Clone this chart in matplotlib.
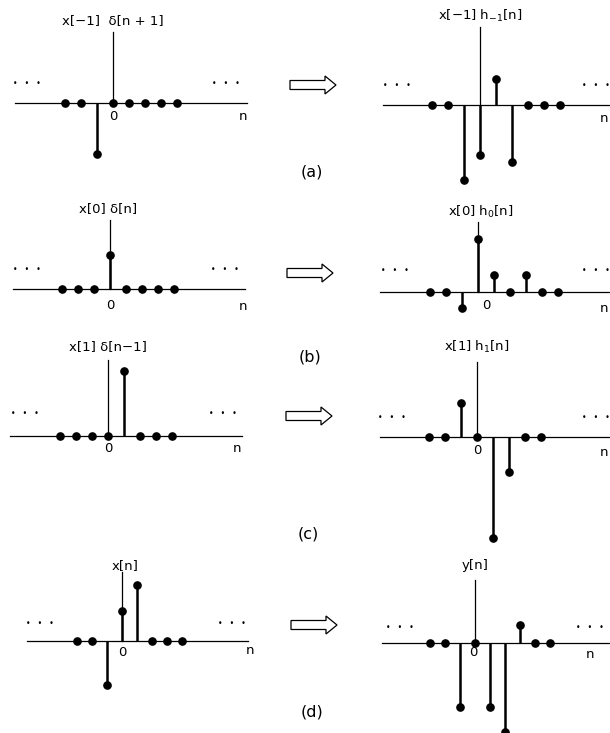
import matplotlib
matplotlib.use("Agg")
import matplotlib.pyplot as plt
from matplotlib.patches import FancyArrow

plt.rcParams["font.family"] = ["DejaVu Sans"]
plt.rcParams["mathtext.fontset"] = "dejavusans"

W, H = 610, 733
UNIT = 34  # pixels per amplitude unit

# sample indices
n_short = [-3, -2, -1, 0, 1, 2, 3, 4]
n_long = [-3, -2, -1, 0, 1, 2, 3, 4, 5]

# amplitudes
x_a = [0, 0, -1.5, 0, 0, 0, 0, 0]
y_a = [0, 0, -2.2, -1.47, 0.76, -1.68, 0, 0, 0]
x_b = [0, 0, 0, 1.0, 0, 0, 0, 0]
y_b = [0, 0, -0.47, 1.56, 0.5, 0, 0.5, 0, 0]
x_c = [0, 0, 0, 0, 1.9, 0, 0, 0]
y_c = [0, 0, 1.0, 0, -2.97, -1.03, 0, 0]
x_d = [0, 0, -1.29, 0.88, 1.65, 0, 0, 0]
y_d = [0, 0, -1.88, 0, -1.88, -2.62, 0.53, 0, 0]

titles = [
    "x[−1]  δ[n + 1]", "x[−1] h$_{-1}$[n]",
    "x[0] δ[n]", "x[0] h$_0$[n]",
    "x[1] δ[n−1]", "x[1] h$_1$[n]",
    "x[n]", "y[n]",
]
labels = ["(a)", "(b)", "(c)", "(d)"]

# layout in pixels: origin (x of n=0, px per sample, y of baseline),
# baseline span, top of ordinate line, title, "0", "n", dots left/right
layouts = [
    dict(o=(113, 16, 103), base=(15, 247), vtop=32, t=(113, 21), z=(113, 116),
         n=(243, 117), dl=(27, 84), dr=(226, 84)),
    dict(o=(480, 16, 105), base=(383, 610), vtop=27, t=(480, 16), z=None,
         n=(604, 118), dl=(397, 85), dr=(596, 85)),
    dict(o=(110, 16, 289), base=(13, 245), vtop=220, t=(108, 209), z=(110, 305),
         n=(243, 306), dl=(27, 270), dr=(225, 270)),
    dict(o=(478, 16, 292), base=(380, 610), vtop=222, t=(481, 212), z=(486, 305),
         n=(604, 308), dl=(395, 271), dr=(596, 271)),
    dict(o=(108, 16, 436), base=(10, 242), vtop=360, t=(108, 347), z=(108, 448),
         n=(237, 448), dl=(25, 414), dr=(223, 414)),
    dict(o=(477, 16, 437), base=(380, 610), vtop=362, t=(477, 347), z=(477, 451),
         n=(604, 452), dl=(392, 417), dr=(596, 417)),
    dict(o=(122, 15, 641), base=(27, 248), vtop=572, t=(125, 566), z=(122, 652),
         n=(250, 650), dl=(40, 623), dr=(232, 623)),
    dict(o=(475, 15, 643), base=(382, 610), vtop=580, t=(475, 566), z=(473, 653),
         n=(590, 655), dl=(400, 627), dr=(590, 627)),
]

series = [(n_short, x_a), (n_long, y_a), (n_short, x_b), (n_long, y_b),
          (n_short, x_c), (n_short, y_c), (n_short, x_d), (n_long, y_d)]

fig = plt.figure(figsize=(W / 100, H / 100), dpi=100)


def ftext(x, y, s, **kw):
    fig.text(x / W, 1 - y / H, s, ha="center", va="center", **kw)


for (n, vals), lay, title in zip(series, layouts, titles):
    ax = fig.add_axes([0, 0, 1, 1])
    ax.patch.set_alpha(0)
    x0, dx, y0 = lay["o"]
    ax.set_xlim(-x0 / dx, (W - x0) / dx)
    ax.set_ylim((y0 - H) / UNIT, y0 / UNIT)
    ml, sl, bl = ax.stem(n, vals, linefmt="k-", markerfmt="ko", basefmt=" ")
    plt.setp(ml, markersize=5.2, zorder=4)
    plt.setp(sl, linewidth=1.8, zorder=3)
    for s in ["top", "right"]:
        ax.spines[s].set_visible(False)
    ax.spines["bottom"].set_position(("data", 0))
    ax.spines["bottom"].set_bounds((lay["base"][0] - x0) / dx, (lay["base"][1] - x0) / dx)
    ax.spines["left"].set_position(("data", 0))
    ax.spines["left"].set_bounds(0, (y0 - lay["vtop"]) / UNIT)
    for s in ["bottom", "left"]:
        ax.spines[s].set_linewidth(0.9)
    ax.set_xticks([])
    ax.set_yticks([])

    ftext(*lay["t"], title, fontsize=9.5)
    if lay["z"]:
        ftext(*lay["z"], "0", fontsize=9.5)
    ftext(*lay["n"], "n", fontsize=9.5)
    ftext(*lay["dl"], "•   •   •", fontsize=5.5)
    ftext(*lay["dr"], "•   •   •", fontsize=5.5)

# hollow arrows and panel labels
ax_ar = fig.add_axes([0, 0, 1, 1])
ax_ar.set_xlim(0, W)
ax_ar.set_ylim(H, 0)
ax_ar.axis("off")
for xs, ys in [(290, 85), (287, 273), (286, 416), (291, 625)]:
    ax_ar.add_patch(FancyArrow(xs, ys, 46, 0, width=9, head_width=18, head_length=11,
                               length_includes_head=True, fc="white", ec="black", lw=0.9))

for lab, (lx, ly) in zip(labels, [(312, 172), (310, 357), (308, 534), (312, 712)]):
    ftext(lx, ly, lab, fontsize=11.5)

fig.savefig("out.png", dpi=100)
plt.close(fig)
